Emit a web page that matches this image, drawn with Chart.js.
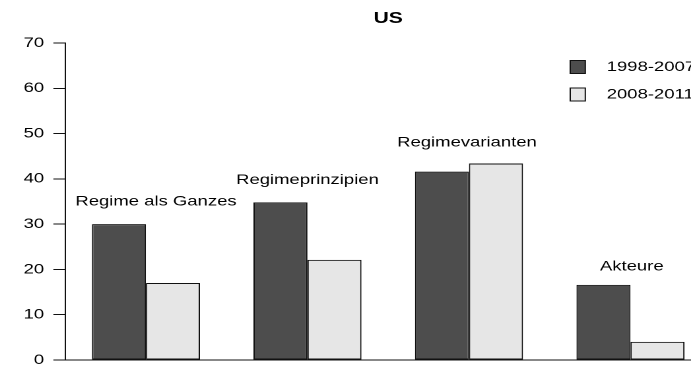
<!DOCTYPE html>
<html>
<head>
<meta charset="utf-8">
<script src="https://cdn.jsdelivr.net/npm/chart.js@4.4.9/dist/chart.umd.min.js"></script>
<style>
html, body { margin: 0; padding: 0; width: 691px; height: 366px; overflow: hidden; background: #fff; }
/* the reference is stretched sideways, so the whole canvas is too */
#wrap { position: absolute; left: 0; top: 0; width: 560px; height: 380px; transform: scale(1.32, 1); transform-origin: 0 0; }
</style>
</head>
<body>
<div id="wrap"><canvas id="chart" width="560" height="380"></canvas></div>
<script>
// Daten
const categories = ['Regime als Ganzes', 'Regimeprinzipien', 'Regimevarianten', 'Akteure'];
const series1998 = [30, 34.8, 41.6, 16.6];
const series2008 = [17, 22.1, 43.4, 4];
const seriesNames = ['1998-2007', '2008-2011'];
const labelLevels = [35, 39.7, 48, 20.6];
const yTicks = [0, 10, 20, 30, 40, 50, 60, 70];

const FONT = '"Liberation Sans", Arial, sans-serif';
Chart.defaults.font.family = FONT;
Chart.defaults.color = '#000';

// Gruppenbeschriftung über den Balken
const groupLabels = {
    id: 'groupLabels',
    afterDatasetsDraw(chart, args, opts) {
        const { ctx, scales: { x, y } } = chart;
        ctx.save();
        ctx.font = '14px ' + FONT;
        ctx.fillStyle = '#000';
        ctx.textAlign = 'center';
        ctx.textBaseline = 'middle';
        chart.data.labels.forEach((lab, i) => {
            ctx.fillText(lab, x.getPixelForValue(i) + opts.dx[i], y.getPixelForValue(labelLevels[i]));
        });
        ctx.restore();
    }
};

// Legende oben rechts im Plotbereich
const boxLegend = {
    id: 'boxLegend',
    afterDraw(chart, args, opts) {
        const { ctx } = chart;
        ctx.save();
        ctx.font = '14px ' + FONT;
        ctx.textAlign = 'left';
        ctx.textBaseline = 'middle';
        chart.data.datasets.forEach((ds, i) => {
            const cy = opts.top + i * opts.step;
            ctx.fillStyle = ds.backgroundColor;
            ctx.fillRect(opts.x, cy - 6.5, 11.4, 13);
            ctx.strokeStyle = '#111';
            ctx.lineWidth = 1;
            ctx.strokeRect(opts.x, cy - 6.5, 11.4, 13);
            ctx.fillStyle = '#000';
            ctx.fillText(ds.label, opts.x + 27.6, cy);
        });
        ctx.restore();
    }
};

new Chart(document.getElementById('chart'), {
    type: 'bar',
    data: {
        labels: categories,
        datasets: [
            { label: seriesNames[0], data: series1998, backgroundColor: '#4d4d4d' },
            { label: seriesNames[1], data: series2008, backgroundColor: '#e6e6e6' }
        ]
    },
    plugins: [groupLabels, boxLegend],
    options: {
        responsive: false,
        devicePixelRatio: 2,
        animation: false,
        layout: { padding: { left: 0, right: 21.2, top: 0, bottom: 0 } },
        datasets: {
            bar: {
                categoryPercentage: 0.669,
                barPercentage: 1,
                borderColor: '#111',
                borderWidth: 1,
                borderSkipped: false
            }
        },
        scales: {
            x: {
                afterFit(s) { s.height = 20; },
                grid: { display: false },
                border: { display: true, color: '#111', width: 1 },
                ticks: { display: false }
            },
            y: {
                min: 0,
                max: 70,
                afterFit(s) { s.width = 49.4; },
                afterBuildTicks(s) { s.ticks = yTicks.map(v => ({ value: v })); },
                grid: { drawOnChartArea: false, drawTicks: true, tickLength: 9, color: '#111', lineWidth: 1 },
                border: { display: true, color: '#111', width: 1 },
                ticks: { padding: 7, color: '#000', font: { size: 14 } }
            }
        },
        plugins: {
            legend: { display: false },
            tooltip: { enabled: false },
            title: {
                display: true,
                text: 'US',
                fullSize: false,
                color: '#000',
                font: { size: 16, weight: 'bold' },
                padding: { top: 8.9, bottom: 14.9 }
            },
            groupLabels: { dx: [7.6, 0, -1.5, 1] },
            boxLegend: { x: 432, top: 67, step: 27.5 }
        }
    }
});
</script>
</body>
</html>
